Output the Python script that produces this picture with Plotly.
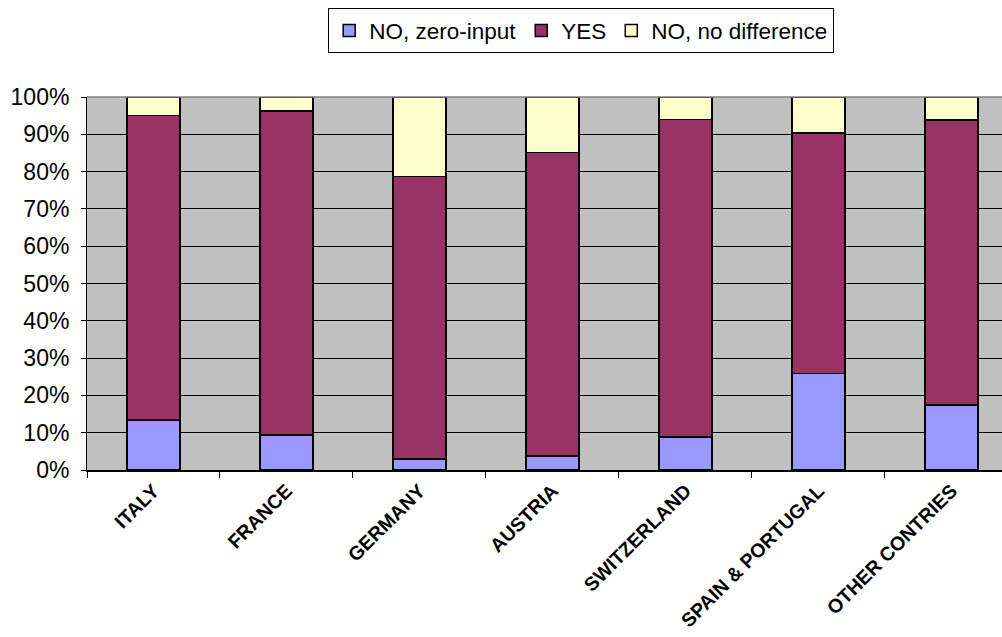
import plotly.graph_objects as go

# Survey answers by country (share of respondents, %)
countries = ["ITALY", "FRANCE", "GERMANY", "AUSTRIA", "SWITZERLAND",
             "SPAIN & PORTUGAL", "OTHER CONTRIES"]
no_zero_input = [13.4, 9.4, 2.9, 3.8, 8.9, 25.9, 17.4]
yes = [81.6, 86.8, 75.8, 81.3, 85.1, 64.5, 76.5]
no_difference = [5.0, 3.8, 21.3, 14.9, 6.0, 9.6, 6.1]

series = [
    ("NO, zero-input", no_zero_input, "#9999FF"),
    ("YES", yes, "#993366"),
    ("NO, no difference", no_difference, "#FFFFCC"),
]

font_family = "Arial, 'Liberation Sans', sans-serif"

fig = go.Figure()
for name, vals, color in series:
    fig.add_trace(go.Bar(
        name=name,
        x=countries,
        y=[v / 100 for v in vals],
        marker=dict(color=color, line=dict(color="black", width=1.5)),
    ))

fig.update_layout(
    barmode="stack",
    bargap=0.6,
    width=1002,
    height=637,
    margin=dict(l=87, r=0, t=97, b=167),
    paper_bgcolor="white",
    plot_bgcolor="#C0C0C0",
    font=dict(family=font_family, color="black", size=23),
    showlegend=True,
    legend=dict(
        orientation="h",
        x=0.2636, y=1.2376, xanchor="left", yanchor="top",
        traceorder="normal",
        bgcolor="white",
        bordercolor="black",
        borderwidth=1,
        font=dict(size=22.5, family=font_family),
        itemwidth=30,
    ),
)

fig.update_yaxes(
    range=[0, 1],
    dtick=0.1,
    tickformat=".0%",
    showgrid=True,
    gridcolor="black",
    gridwidth=1,
    showline=True,
    linecolor="black",
    linewidth=1,
    ticks="outside",
    ticklen=5,
    tickcolor="black",
    ticklabelstandoff=7,
    tickfont=dict(size=23),
    zeroline=False,
    mirror=False,
    automargin=False,
)

fig.update_xaxes(
    range=[-0.5, 6.38],
    showline=True,
    linecolor="black",
    linewidth=1.5,
    ticks="outside",
    tickson="boundaries",
    ticklen=6,
    tickcolor="black",
    tickangle=-45,
    tickfont=dict(size=19.5, family=font_family, weight="bold"),
    showgrid=False,
    automargin=False,
)

# thin grey frame along the top of the plot area
fig.add_shape(type="line", xref="paper", yref="paper",
              x0=0, x1=1, y0=1, y1=1,
              line=dict(color="#808080", width=1.5))

fig.write_html("out.html")
